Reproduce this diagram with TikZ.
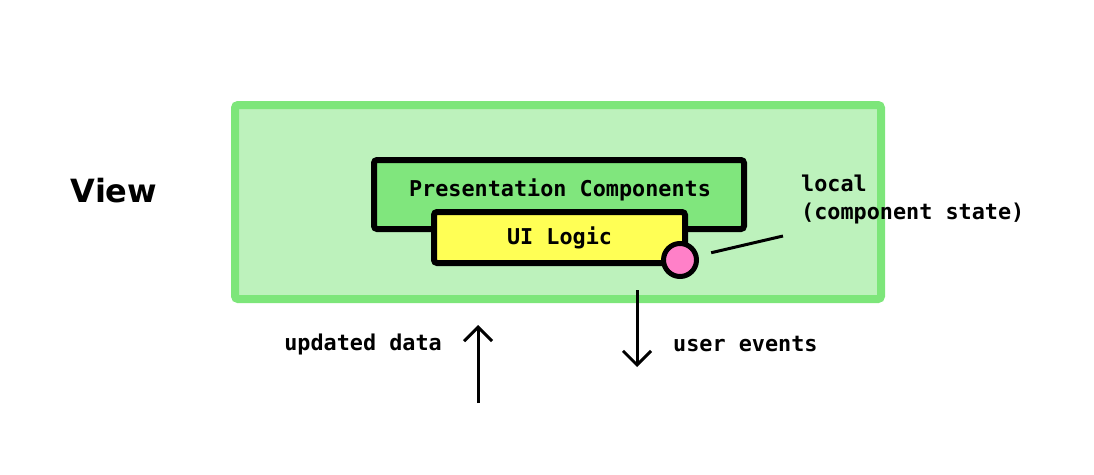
\documentclass[tikz,border=0pt]{standalone}
\usepackage{fontspec}
\setmonofont{DejaVu Sans Mono}
\newfontfamily\viewfont{DejaVu Sans}
\usepackage{tikz}
\usetikzlibrary{arrows.meta}
\definecolor{viewfill}{RGB}{189,242,188}
\definecolor{viewline}{RGB}{125,230,122}
\definecolor{compfill}{RGB}{128,230,125}
\definecolor{logicfill}{RGB}{255,255,85}
\definecolor{dotfill}{RGB}{255,128,200}
\tikzset{
	monotext/.style={font=\fontsize{21.8}{28}\selectfont\ttfamily\bfseries},
	layerbox/.style={draw=black,line width=6pt,rounded corners=3pt,inner sep=0pt},
	flowarrow/.style={line width=3pt,-{Straight Barb[length=14pt,width=28pt]}}
}

\begin{document}
\begin{tikzpicture}[x=1pt,y=-1pt]
	\useasboundingbox (0,0) rectangle (1094,474);
	\node[draw=viewline,fill=viewfill,line width=8pt,rounded corners=3pt,minimum width=646pt,minimum height=194pt,inner sep=0pt] (View) at (558,202) {};
	\node[font=\fontsize{32}{32}\selectfont\viewfont\bfseries,inner sep=0pt] (ViewLabel) at (114,191) {View};
	\node[layerbox,fill=compfill,monotext,minimum width=370pt,minimum height=69pt] (Components) at (559,194.5) {};
	\node[monotext,inner sep=0pt] (ComponentsText) at (560,190) {Presentation Components};
	\node[layerbox,fill=logicfill,monotext,minimum width=251pt,minimum height=51pt] (Logic) at (559.5,237.5) {UI Logic};
	\node[circle,draw=black,fill=dotfill,line width=5pt,minimum size=33pt,inner sep=0pt] (State) at (680,260) {};
	\coordinate (StateTip) at (783,236);
	\draw [line width=3pt,shorten <=13pt] (State) -- (StateTip);
	\node[monotext,align=left,anchor=west,inner sep=0pt] (StateLabel) at (801,199) {local\\(component state)};
	% Pfeile unter der View
	\coordinate (EventStart) at (637,290);
	\coordinate (EventEnd) at (637,367);
	\draw [flowarrow] (EventStart) -- (EventEnd);
	\node[monotext,anchor=west,inner sep=0pt] (EventLabel) at (673,344) {user events};
	\coordinate (DataStart) at (478,403);
	\coordinate (DataEnd) at (478,325);
	\draw [flowarrow] (DataStart) -- (DataEnd);
	\node[monotext,anchor=east,inner sep=0pt] (DataLabel) at (442,344) {updated data};
\end{tikzpicture}
\end{document}
